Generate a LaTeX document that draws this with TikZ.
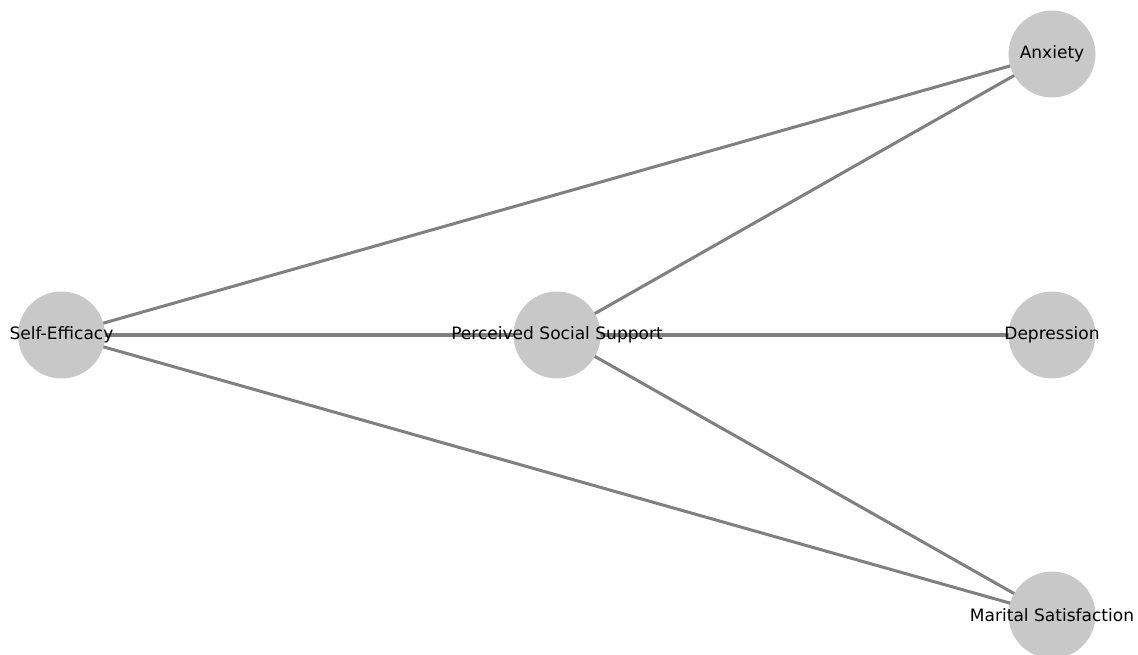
\documentclass[tikz,border=0pt]{standalone}
\usepackage{fontspec}
\setmainfont{DejaVu Sans}
\usetikzlibrary{backgrounds}
\definecolor{nodegray}{RGB}{200,200,200}
\definecolor{edgegray}{RGB}{128,128,128}

\begin{document}
\begin{tikzpicture}[x=0.02cm,y=-0.02cm,
  var/.style={circle,fill=nodegray,minimum size=1.74cm,inner sep=0pt},
  txt/.style={font=\fontsize{9.7}{11}\selectfont,text=black},
  link/.style={draw=edgegray,line width=1.72pt}]
\useasboundingbox (0,0) rectangle (1138,655);
\node[var,label={[txt]center:Self-Efficacy}] (se) at (61.5,335) {};
\node[var,label={[txt]center:Perceived Social Support}] (pss) at (557,335) {};
\node[var,label={[txt]center:Depression}] (dep) at (1052,335) {};
\node[var,label={[txt]center:Anxiety}] (anx) at (1052,54) {};
\node[var,label={[txt]center:Marital Satisfaction}] (ms) at (1052,615) {};
\begin{pgfonlayer}{background}
\path[link] (se.center) -- (anx.center);
\path[link] (se.center) -- (pss.center);
\path[link] (se.center) -- (ms.center);
\path[link] (pss.center) -- (anx.center);
\path[link] (pss.center) -- (dep.center);
\path[link] (pss.center) -- (ms.center);
\end{pgfonlayer}
\end{tikzpicture}
\end{document}
